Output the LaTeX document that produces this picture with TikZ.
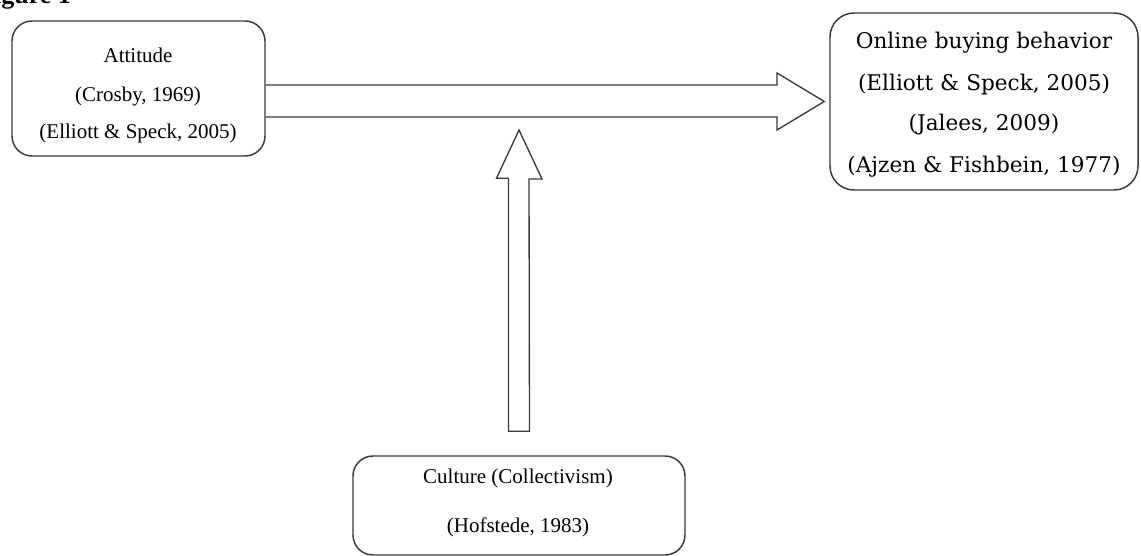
\documentclass[tikz,border=0pt]{standalone}
\usepackage{fontspec}
\setmainfont{Liberation Serif}
\newfontfamily\dejaserif{DejaVu Serif}
\usetikzlibrary{calc}
\definecolor{edgegray}{HTML}{3A3A3A}
\tikzset{
  box/.style={draw=edgegray, line width=1.1pt, rounded corners=15pt, inner sep=0pt},
  blockarrow/.style={draw=edgegray, line width=1pt, line join=miter},
  smalltext/.style={font=\fontsize{15.75}{18}\selectfont, anchor=base, inner sep=0pt},
  bigtext/.style={font=\dejaserif\fontsize{16.2}{19}\selectfont, anchor=base, inner sep=0pt},
  figlabel/.style={font=\bfseries\fontsize{19.5}{22}\selectfont, anchor=base west, inner sep=0pt}
}
\begin{document}
\begin{tikzpicture}[x=0.75pt,y=-0.75pt]
\useasboundingbox (0,0) rectangle (1141,556);
\node[figlabel] (fig) at (-22,4) {Figure 1};
% boxes
\node[box, minimum width=189.75pt, minimum height=101.25pt] (att) at (138.5,88.5) {};
\node[box, minimum width=231pt, minimum height=132.75pt, rounded corners=18pt] (obb) at (984,101.5) {};
\node[box, minimum width=249pt, minimum height=74.25pt] (cul) at (519,505.5) {};
% texts
\node[smalltext] (att1) at (138,63) {Attitude};
\node[smalltext] (att2) at (138,102) {(Crosby, 1969)};
\node[smalltext] (att3) at (138,139) {(Elliott \& Speck, 2005)};
\node[bigtext] (obb1) at (984,49) {Online buying behavior};
\node[bigtext] (obb2) at (984,91) {(Elliott \& Speck, 2005)};
\node[bigtext] (obb3) at (984,131) {(Jalees, 2009)};
\node[bigtext] (obb4) at (984,172) {(Ajzen \& Fishbein, 1977)};
\node[smalltext] (cul1) at (518,483) {Culture (Collectivism)};
\node[smalltext] (cul2) at (518,532) {(Hofstede, 1983)};
% horizontal block arrow from Attitude to Online buying behavior
\coordinate (hA) at ($(att.east)+(0,-3.5)$);
\coordinate (hB) at ($(att.east)+(0,28.5)$);
\coordinate (tip) at ($(obb.west)+(-5,0)$);
\draw[blockarrow] (hA) -- (hA -| 777,0) -- (777,73) -- (tip) -- (777,130) -- (hB -| 777,0) -- (hB);
% vertical block arrow from Culture
\coordinate (vB) at ($(cul.north)+(0,-24)$);
\draw[blockarrow] ($(vB)+(-10.5,0)$) -- ++(0,-253) -- ++(-12,0) -- (519,130) -- (542,179) -- ++(-13,0) -- ($(vB)+(10.5,0)$) -- cycle;
\end{tikzpicture}
\end{document}
